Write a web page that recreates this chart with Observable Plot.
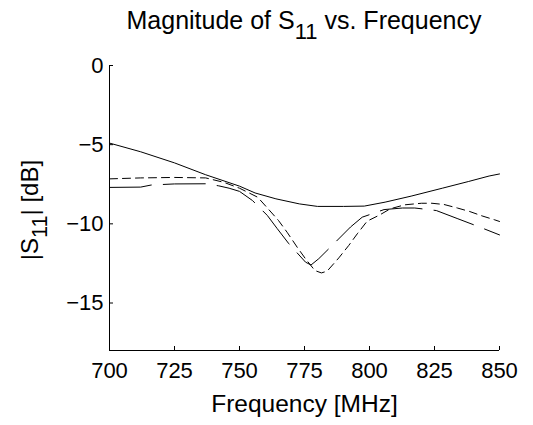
<!DOCTYPE html>
<html>
<head>
<meta charset="utf-8">
<script src="https://cdn.jsdelivr.net/npm/d3@7"></script>
<script src="https://cdn.jsdelivr.net/npm/@observablehq/plot@0.6"></script>
<style>
  body { margin: 0; background: #fff; }
  #wrap { position: relative; width: 533px; height: 425px; font-family: "Liberation Sans", Arial, sans-serif; color: #000; }
  #title { position: relative; height: 45px; }
  #title .t { position: absolute; left: 109px; width: 390px; top: 7px; text-align: center; font-size: 25px; line-height: 26px; white-space: nowrap; }
  #title .sub { position: relative; top: 10px; font-size: 0.88em; }
  svg { display: block; }
</style>
</head>
<body>
<div id="wrap">
  <div id="title"><div class="t">Magnitude of S<span class="sub">11</span> vs. Frequency</div></div>
  <div id="chart"></div>
</div>
<script>
// Return loss |S11| in dB versus frequency (MHz), three measured traces.
const freqSolid = [700, 712, 725, 737, 750, 756, 764, 773, 780, 790, 798, 806, 816, 828, 838, 846, 850];
const dbSolid   = [-4.9, -5.45, -6.15, -6.9, -7.62, -8.05, -8.42, -8.74, -8.9, -8.9, -8.88, -8.63, -8.25, -7.75, -7.33, -6.98, -6.85];

const freqDashed = [700, 712, 725, 737, 744, 750, 757, 761, 765, 768.3, 772.2, 775.4, 779, 781.5, 783.7, 788.2, 792, 795.3, 799.1, 803.8, 808, 813.5, 820, 824, 828.7, 833.8, 838.5, 843.3, 848.2, 850];
const dbDashed   = [-7.16, -7.1, -7.07, -7.1, -7.38, -7.75, -8.32, -9.05, -9.79, -10.53, -11.48, -12.21, -12.95, -13.1, -12.99, -12.15, -11.37, -10.63, -9.83, -9.45, -9.05, -8.8, -8.7, -8.7, -8.78, -9.0, -9.22, -9.5, -9.75, -9.85];

const freqLong = [700, 712, 716, 725, 737, 742, 746, 750, 755, 760.7, 764.5, 769, 775.4, 777.5, 780.5, 785.6, 792.7, 797.2, 800.9, 805.6, 812.7, 817.4, 825.7, 834, 842.3, 850];
const dbLong   = [-7.7, -7.68, -7.55, -7.48, -7.47, -7.6, -7.75, -7.95, -8.53, -9.47, -10.3, -11.26, -12.42, -12.6, -12.2, -11.37, -10.2, -9.58, -9.37, -9.1, -9.0, -9.0, -9.16, -9.68, -10.2, -10.7];

const xTicks = [700, 725, 750, 775, 800, 825, 850];
const yTicks = [-15, -10, -5, 0];

const fontFamily = '"Liberation Sans", Arial, sans-serif';

const plot = Plot.plot({
  width: 533,
  height: 380,
  marginTop: 20,
  marginBottom: 75,
  marginLeft: 109,
  marginRight: 34,
  style: { fontFamily, fontSize: "22px", color: "#000", background: "#fff" },
  x: { domain: [700, 850] },
  y: { domain: [-18, 0] },
  marks: [
    Plot.axisX({ ticks: xTicks, tickSize: -4, tickPadding: 16, label: null, fontSize: 22 }),
    Plot.axisY({ ticks: yTicks, tickSize: -4, tickPadding: 10, label: null, fontSize: 22 }),
    Plot.ruleX([700], { y1: -18, y2: 0, stroke: "#000", strokeWidth: 1 }),
    Plot.ruleY([-18], { x1: 700, x2: 850, stroke: "#000", strokeWidth: 1 }),
    Plot.line(freqSolid, { x: freqSolid, y: dbSolid, stroke: "#000", strokeWidth: 1 }),
    Plot.line(freqDashed, { x: freqDashed, y: dbDashed, stroke: "#000", strokeWidth: 1, strokeDasharray: "8,5" }),
    Plot.line(freqLong, { x: freqLong, y: dbLong, stroke: "#000", strokeWidth: 1, strokeDasharray: "42,12" }),
    Plot.text(["Frequency [MHz]"], { frameAnchor: "bottom", dy: 61, fontSize: 24.5, fill: "#000" })
  ]
});

// Y-axis title with a subscripted "11"
const svg = d3.select(plot);
const ylab = svg.append("text")
  .attr("transform", "translate(38,165) rotate(-90)")
  .attr("text-anchor", "middle")
  .attr("font-family", fontFamily)
  .attr("font-size", 24)
  .attr("fill", "#000");
ylab.append("tspan").text("|S");
ylab.append("tspan").attr("dy", 9).attr("font-size", 21.6).text("11");
ylab.append("tspan").attr("dy", -9).text("| [dB]");

document.getElementById("chart").appendChild(plot);
</script>
</body>
</html>
